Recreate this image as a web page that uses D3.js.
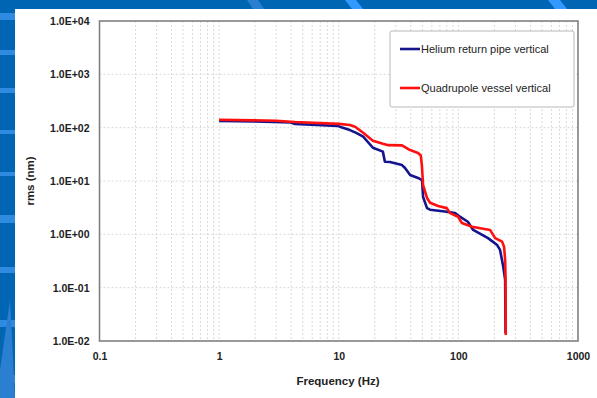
<!DOCTYPE html>
<html>
<head>
<meta charset="utf-8">
<script src="https://cdn.jsdelivr.net/npm/d3@7"></script>
<style>
  body { margin: 0; background: #0066b3; }
  svg { display: block; font-family: "Liberation Sans", Arial, sans-serif; }
</style>
</head>
<body>
<svg id="chart" width="597" height="398"></svg>
<script>
// frequency (Hz) / rms (nm)
const heliumFreq = [1, 2, 4.0, 4.3, 9.8, 10.5, 12.4, 14, 16, 19.3, 23.4, 24.3, 26.8, 33.8, 35.8, 39.5, 46, 49.7, 50.7, 54.7, 58, 80, 93.8, 103, 120, 133, 177, 211, 223, 237, 246, 248];
const heliumRms  = [134, 131, 125, 117, 108, 102, 90, 80, 68, 42, 35.5, 23, 22.7, 19.9, 17.5, 13, 11.4, 10.4, 5.0, 3.1, 2.9, 2.66, 2.5, 2.14, 1.72, 1.21, 0.85, 0.63, 0.51, 0.25, 0.14, 0.014];

const quadFreq = [1, 3, 4.3, 10, 12.4, 13.7, 16, 19.3, 23.4, 26, 33.8, 39.5, 46, 48.5, 49.5, 50.7, 54.7, 58, 67.7, 80, 85.3, 99.4, 107, 130, 184, 203, 232, 241, 246, 248, 249];
const quadRms  = [141, 135, 128, 118, 112, 104, 80, 57, 50, 47, 46.5, 38, 33.5, 30, 20, 8.4, 4.8, 3.9, 3.4, 3.1, 2.5, 2.14, 1.63, 1.39, 1.21, 0.85, 0.73, 0.585, 0.33, 0.15, 0.0129];

const xTicks = [0.1, 1, 10, 100, 1000];
const yTicks = [1e-2, 1e-1, 1e0, 1e1, 1e2, 1e3, 1e4];
const yTickLabels = ["1.0E-02", "1.0E-01", "1.0E+00", "1.0E+01", "1.0E+02", "1.0E+03", "1.0E+04"];

const seriesNames = ["Helium return pipe vertical", "Quadrupole vessel vertical"];
const seriesColors = ["#14148c", "#ff1010"];

const svg = d3.select("#chart");

// background decoration
svg.append("rect").attr("width", 597).attr("height", 398).attr("fill", "#0066b3");
[[13, 7], [50, 5], [88, 5], [130, 4], [172, 4], [215, 8], [267, 6], [320, 7], [375, 8]].forEach(b => {
  svg.append("rect").attr("x", 0).attr("y", b[0]).attr("width", 15).attr("height", b[1]).attr("fill", "#2f8be0");
});
svg.append("path").attr("d", "M247,0 L258,0 L264,9 L253,9 Z").attr("fill", "#2a7fd0");
svg.append("path").attr("d", "M345,0 L356,0 L363,9 L352,9 Z").attr("fill", "#3399ff");
svg.append("path").attr("d", "M548,0 L560,0 L567,9 L555,9 Z").attr("fill", "#3399ff");
svg.append("path").attr("d", "M0,370 L10,300 L15,398 L0,398 Z").attr("fill", "#2a7fd0");

svg.append("rect").attr("x", 15).attr("y", 9).attr("width", 582).attr("height", 389).attr("fill", "#fff");

const margin = { left: 99.5, top: 21, right: 578, bottom: 341 };

const x = d3.scaleLog().domain([0.1, 1000]).range([margin.left, margin.right]);
const y = d3.scaleLog().domain([0.01, 10000]).range([margin.bottom, margin.top]);

// grid
const grid = svg.append("g").attr("stroke", "#cfcfcf").attr("stroke-width", 0.8).attr("stroke-dasharray", "2,2");
const xGrid = [];
for (let d = 0.1; d < 1000; d *= 10) {
  for (let k = 1; k < 10; k++) xGrid.push(d * k);
}
grid.selectAll("line.xg").data(xGrid.slice(1)).join("line")
  .attr("x1", d => x(d)).attr("x2", d => x(d))
  .attr("y1", margin.top).attr("y2", margin.bottom);
grid.selectAll("line.yg").data(yTicks.slice(1, -1)).join("line")
  .attr("x1", margin.left).attr("x2", margin.right)
  .attr("y1", d => y(d)).attr("y2", d => y(d));

// axes labels
const xAxis = d3.axisBottom(x).tickValues(xTicks).tickFormat(d => String(+d.toPrecision(1))).tickSize(0).tickPadding(12);
svg.append("g").attr("transform", `translate(0,${margin.bottom})`).call(xAxis)
  .call(g => g.select(".domain").remove())
  .selectAll("text").attr("font-size", 10.5).attr("font-weight", "bold").attr("fill", "#222")
  .attr("font-family", "Liberation Sans, Arial, sans-serif");

const yAxis = d3.axisLeft(y).tickValues(yTicks).tickFormat((d, i) => yTickLabels[i]).tickSize(0).tickPadding(10);
svg.append("g").attr("transform", `translate(${margin.left},0)`).call(yAxis)
  .call(g => g.select(".domain").remove())
  .selectAll("text").attr("font-size", 10.5).attr("font-weight", "bold").attr("fill", "#222")
  .attr("font-family", "Liberation Sans, Arial, sans-serif");

svg.append("text").attr("x", 338).attr("y", 385).attr("text-anchor", "middle")
  .attr("font-size", 11.5).attr("font-weight", "bold").attr("fill", "#222").text("Frequency (Hz)");
svg.append("text").attr("transform", `translate(34,${(margin.top + margin.bottom) / 2}) rotate(-90)`)
  .attr("text-anchor", "middle").attr("font-size", 11.5).attr("font-weight", "bold").attr("fill", "#222").text("rms (nm)");

// lines
const line = d3.line().x(d => x(d[0])).y(d => y(d[1]));
const series = [d3.zip(heliumFreq, heliumRms), d3.zip(quadFreq, quadRms)];
svg.selectAll("path.series").data(series).join("path")
  .attr("class", "series")
  .attr("d", line)
  .attr("fill", "none")
  .attr("stroke", (d, i) => seriesColors[i])
  .attr("stroke-width", 2.6)
  .attr("stroke-linejoin", "round");

// plot border
svg.append("rect").attr("x", margin.left).attr("y", margin.top)
  .attr("width", margin.right - margin.left).attr("height", margin.bottom - margin.top)
  .attr("fill", "none").attr("stroke", "#808080").attr("stroke-width", 1.6);

// legend
const legend = svg.append("g");
legend.append("rect").attr("x", 390).attr("y", 31).attr("width", 184).attr("height", 76)
  .attr("fill", "#fff").attr("stroke", "#b8b8b8").attr("stroke-width", 1).attr("rx", 2);
seriesNames.forEach((name, i) => {
  const ly = 49 + i * 39;
  legend.append("line").attr("x1", 400).attr("x2", 420).attr("y1", ly).attr("y2", ly)
    .attr("stroke", seriesColors[i]).attr("stroke-width", 2.6);
  legend.append("text").attr("x", 421).attr("y", ly + 4).attr("font-size", 11).attr("fill", "#222").text(name);
});
</script>
</body>
</html>
